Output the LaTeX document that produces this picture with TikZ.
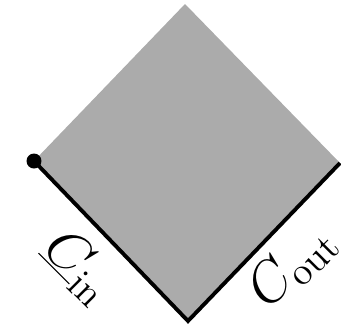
\documentclass[tikz,border=0pt]{standalone}
\begin{document}
\begin{tikzpicture}[x=0.02cm,y=-0.02cm]
        \useasboundingbox (0,0) rectangle (341,329);
        \coordinate (T) at (185,4);
        \coordinate (L) at (34,161);
        \coordinate (B) at (188,321);
        \coordinate (R) at (340,163);
        \fill[black!33] (T) -- (L) -- (B) -- (R) -- cycle;
        % Boundary: in-edge and out-edge
        \draw[line width=2.2pt] (L) -- (B) -- (R);
        \fill (L) circle (0.15cm);
        % Labels
        \node[rotate=-45,scale=1.55,font=\huge] (cin) at (79,267) {$\underline{C}_{\mathrm{in}}$};
        \node[rotate=45,scale=1.55,font=\huge] (cout) at (292,266) {$C_{\mathrm{out}}$};
    \end{tikzpicture}
\end{document}
